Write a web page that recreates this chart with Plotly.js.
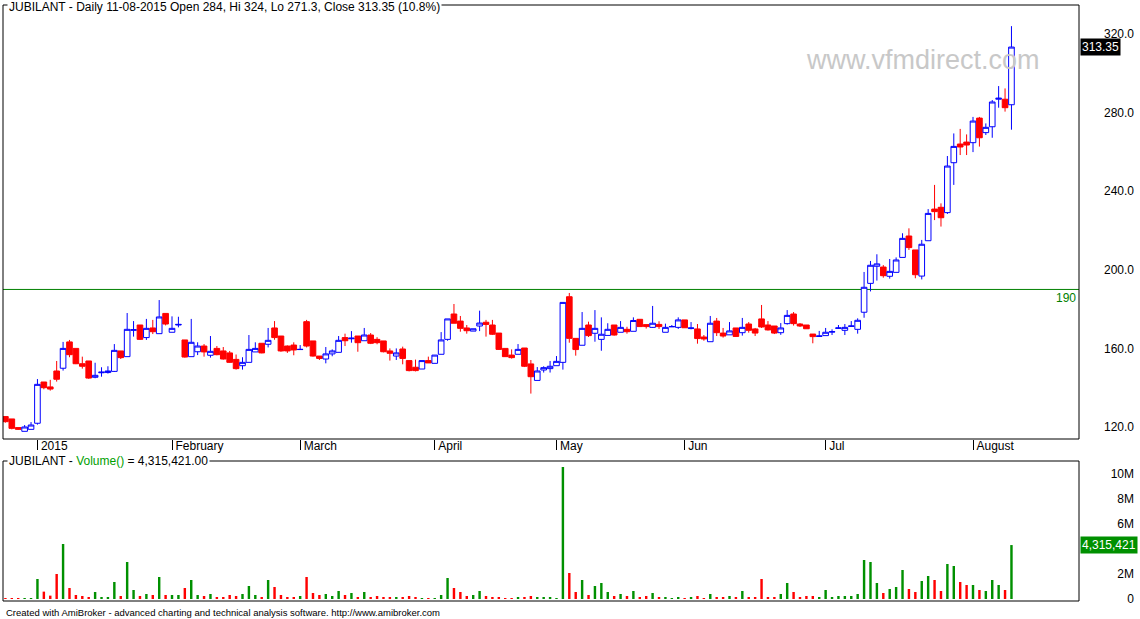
<!DOCTYPE html>
<html><head><meta charset="utf-8">
<script src="https://cdn.plot.ly/plotly-3.0.1.min.js"></script>
<style>html,body{margin:0;padding:0;background:#fff;}#chart{width:1140px;height:619px;}</style>
</head><body><div id="chart"></div>
<script>
const symbol = "JUBILANT";
const headerText = "JUBILANT - Daily 11-08-2015 Open 284, Hi 324, Lo 271.3, Close 313.35 (10.8%)";
const volumeTitle = 'JUBILANT - <span style="color:#00a000">Volume()</span> = 4,315,421.00';
const watermark = "www.vfmdirect.com";
const footer = "Created with AmiBroker - advanced charting and technical analysis software. http://www.amibroker.com";

const openP = [125.3,124.1,119.7,117.8,118.8,121.9,142.9,140.4,148.5,149.9,
163.3,160.0,152.2,153.6,145.3,147.6,147.7,148.3,158.7,155.8,
169.2,171.9,165.5,170.4,167.5,177.8,168.2,171.9,164.3,155.8,
158.3,161.2,156.5,160.0,158.7,157.7,154.4,151.2,152.9,158.2,
162.6,162.1,170.4,166.3,161.2,161.7,159.4,173.6,163.8,156.1,
154.6,157.2,158.0,165.5,164.9,166.3,163.9,166.8,164.6,163.8,
158.7,156.1,159.7,153.8,150.4,149.5,153.8,152.4,157.0,164.6,
177.5,173.9,170.4,168.8,171.4,173.3,171.9,167.8,160.0,156.6,
157.0,160.2,152.1,143.7,149.0,149.7,151.2,152.9,186.3,165.1,
161.6,171.9,167.7,164.6,166.6,171.9,168.2,169.7,168.7,174.8,
172.1,170.7,172.2,168.2,171.0,170.7,174.5,170.1,169.9,165.8,
163.4,173.9,167.8,166.9,170.4,168.0,172.4,169.9,175.0,171.9,
171.4,168.0,172.6,177.5,172.4,171.9,167.3,166.1,166.5,168.3,
170.2,169.2,171.2,169.7,178.4,193.1,201.8,201.4,196.7,198.7,
206.3,217.2,210.1,196.8,214.8,230.9,231.8,229.1,254.5,264.0,
265.0,264.7,277.2,269.8,272.8,286.8,286.8,284];

const highP = [125.4,124.1,119.7,121.0,122.5,144.4,142.9,144.0,153.6,163.3,
164.3,160.0,155.8,153.6,152.7,150.4,150.9,162.2,158.7,178.0,
173.9,171.9,175.0,174.5,184.6,177.8,176.3,176.1,164.3,175.0,
163.1,162.2,166.3,161.2,160.7,158.7,156.9,155.5,166.8,163.1,
162.6,170.4,173.9,166.3,161.5,163.1,161.7,174.5,163.8,156.1,
160.7,159.5,166.3,167.5,168.8,166.3,170.4,167.8,165.7,163.8,
160.0,160.0,160.9,153.8,154.3,153.8,155.8,156.6,168.3,175.0,
182.6,176.5,171.9,170.0,179.2,174.5,174.5,167.8,160.0,159.5,
162.2,160.2,154.1,150.5,150.9,153.6,156.1,183.4,188.2,165.1,
178.5,173.6,179.5,175.8,172.8,171.9,173.9,171.0,175.8,174.8,
172.1,181.6,173.8,172.6,171.9,175.8,174.5,173.4,172.4,166.8,
176.5,175.5,170.4,173.4,170.4,175.5,173.4,170.4,182.1,173.9,
171.4,172.9,179.5,178.5,172.9,171.9,167.3,168.9,170.4,169.7,
171.9,172.4,173.9,175.3,198.9,204.5,207.9,202.4,205.5,206.3,
218.6,221.1,210.1,215.2,230.9,243.2,233.8,257.9,269.4,271.7,
268.9,277.8,277.8,274.5,286.4,293.5,292.3,324];

const lowP = [122.2,118.8,118.5,117.8,118.8,121.2,139.2,138.5,143.1,148.7,
155.5,152.0,149.7,144.5,144.8,145.6,147.2,148.0,154.6,155.8,
166.0,164.3,164.3,167.3,167.5,171.7,168.2,170.7,155.3,155.8,
156.6,155.8,155.3,156.5,154.3,152.7,149.2,149.2,152.9,158.2,
157.5,160.5,164.4,158.3,157.7,156.5,159.2,160.5,155.8,154.1,
152.4,156.0,158.0,161.2,162.9,158.3,163.9,162.2,162.1,158.0,
153.8,154.1,151.9,148.3,148.3,149.5,152.6,152.4,157.0,163.9,
172.8,168.5,167.5,168.8,168.8,166.0,166.8,159.2,155.8,154.8,
157.0,150.5,137.0,143.7,147.7,147.7,151.2,149.2,162.9,156.3,
161.6,165.8,163.4,158.8,166.6,166.5,168.2,167.5,168.7,171.1,
170.1,170.4,169.9,168.2,171.0,169.9,170.4,169.7,162.4,163.9,
163.4,166.3,165.5,166.9,165.8,166.5,168.0,166.3,170.4,169.1,
167.3,166.9,172.1,171.6,170.9,170.0,162.6,165.9,166.5,166.8,
170.0,166.8,171.1,167.5,175.6,189.0,194.5,196.0,195.5,198.7,
206.3,210.1,195.7,195.1,214.8,225.3,222.0,228.4,243.2,258.4,
258.4,259.9,262.7,268.6,267.2,282.5,280.5,271.3];

const closeP = [122.7,119.3,118.8,120.0,121.0,141.7,140.0,139.3,144.3,160.0,
156.8,152.2,150.9,144.9,146.3,147.9,148.5,159.0,155.3,169.7,
169.5,164.6,170.2,168.5,176.0,172.4,170.2,172.2,155.6,163.1,
161.2,158.2,158.5,156.8,154.6,152.9,149.7,152.9,159.5,160.0,
157.7,164.1,165.5,158.7,158.7,159.2,159.5,161.2,156.1,154.9,
157.2,158.7,164.1,163.9,165.2,162.9,166.8,162.6,162.9,158.3,
157.5,157.7,154.9,148.7,148.7,153.8,152.6,156.6,164.3,175.0,
172.8,170.2,169.0,170.0,172.9,172.2,167.2,159.5,155.8,155.3,
159.5,150.9,145.6,148.5,150.2,150.9,153.4,183.4,165.1,159.4,
170.2,166.5,170.2,167.2,169.7,166.8,170.7,168.5,174.2,171.1,
171.1,172.8,171.1,170.7,171.1,174.5,170.5,170.4,165.0,164.8,
172.8,168.0,166.3,168.9,166.1,170.7,169.2,167.8,170.9,169.4,
167.8,170.4,176.8,172.6,171.4,170.0,166.0,166.3,168.2,168.5,
170.4,170.7,171.4,174.3,191.1,202.3,203.0,197.0,199.2,205.0,
216.0,211.3,197.5,213.0,228.7,229.6,226.5,252.8,262.8,262.5,
263.5,275.7,267.2,272.5,285.4,287.3,282.5,313.35];

// volume in millions
const volumeM = [0.08,0.08,0.08,0.08,0.08,1.6,0.59,0.27,2.0,4.4,
0.88,0.32,0.24,0.16,0.56,0.16,0.16,1.36,0.24,2.96,
0.72,0.24,0.4,0.32,1.76,0.32,0.32,0.32,0.88,1.52,
0.32,0.24,0.4,0.16,0.16,0.32,0.24,0.4,1.04,0.32,
0.16,1.52,0.96,0.32,0.16,0.16,0.24,1.76,0.48,0.32,
0.4,0.24,0.64,0.32,0.48,0.16,0.56,0.16,0.24,0.16,
0.16,0.16,0.16,0.24,0.16,0.08,0.08,0.08,0.32,1.68,
0.88,0.56,0.24,0.32,0.64,0.24,0.16,0.16,0.08,0.08,
0.16,0.16,0.24,0.16,0.16,0.16,0.08,10.56,2.08,0.56,
1.52,0.32,1.04,1.28,0.56,0.24,0.4,0.24,0.64,0.16,
0.24,0.48,0.16,0.16,0.08,0.16,0.08,0.16,0.24,0.08,
0.4,0.16,0.16,0.24,0.16,0.64,0.16,0.16,1.6,0.16,
0.16,0.4,1.28,0.56,0.16,0.24,0.24,0.16,0.72,0.16,
0.24,0.24,0.24,0.4,3.12,2.96,1.28,0.48,0.8,0.96,
2.32,0.8,0.56,1.44,1.84,1.52,0.64,2.8,2.64,1.36,
1.12,1.12,0.72,0.64,1.52,1.12,0.72,4.315421];

const tickIdx = [5,26,46,67,86,106,128,151];
const tickLabels = ["2015","February","March","April","May","Jun","Jul","August"];
const priceTicks = [120,160,200,240,280,320];
// the 4M label sits behind the last-volume marker box in the reference
const volTicks = [0,2,6,8,10];
const volTickLabels = ["0","2M","6M","8M","10M"];
const levelLines = [190];

const idx = openP.map((_, i) => i);
const last = closeP.length - 1;

const BLUE = '#0000ff', RED = '#ff0000', GREEN = '#009000';
const FONT = 'Arial, "Liberation Sans", sans-serif';
const W = 1140, H = 619, ML = 3, MR = 3, MT = 5, MB = 18;
const PW = W - ML - MR, PH = H - MT - MB;
const px = x => (x - ML) / PW;
const py = y => (H - MB - y) / PH;

const xr = [-0.375, 167.54];

const candle = {
  type: 'candlestick', x: idx, open: openP, high: highP, low: lowP, close: closeP,
  xaxis: 'x', yaxis: 'y', whiskerwidth: 0, hoverinfo: 'skip',
  increasing: {line: {color: BLUE, width: 1}, fillcolor: '#ffffff'},
  decreasing: {line: {color: RED, width: 1}, fillcolor: RED}
};
const vol = {
  type: 'bar', x: idx, y: volumeM, xaxis: 'x2', yaxis: 'y2', width: 0.38,
  marker: {color: idx.map(i => closeP[i] >= openP[i] ? GREEN : RED), line: {width: 0}},
  hoverinfo: 'skip'
};

const fmtInt = v => Math.round(v * 1e6).toLocaleString('en-US');

const layout = {
  width: W, height: H, margin: {l: ML, r: MR, t: MT, b: MB},
  paper_bgcolor: '#ffffff', plot_bgcolor: '#ffffff', showlegend: false,
  font: {family: FONT, size: 12, color: '#000'},
  boxgap: 0.12, boxgroupgap: 0,
  xaxis: {domain: [0, px(1079)], range: xr, anchor: 'y', tickvals: tickIdx, ticktext: tickLabels,
    ticks: 'outside', ticklen: 10, tickcolor: '#000', tickwidth: 1,
    ticklabelposition: 'outside right', ticklabelstandoff: -4, ticklabelshift: 3,
    showgrid: false, zeroline: false, showline: false, rangeslider: {visible: false}, fixedrange: true,
    tickfont: {family: FONT, size: 12, color: '#000'}},
  xaxis2: {domain: [0, px(1079)], range: xr, anchor: 'y2', showticklabels: false, ticks: '',
    showgrid: false, zeroline: false, showline: false, fixedrange: true},
  yaxis: {domain: [py(439), 1], range: [113.89, 334.76], anchor: 'free', position: 1, side: 'right',
    tickvals: priceTicks, ticktext: priceTicks.map(v => v.toFixed(1)), ticklabelposition: 'inside',
    ticklabeloverflow: 'allow', ticks: '', showgrid: false, zeroline: false, showline: false, fixedrange: true,
    tickfont: {family: FONT, size: 12, color: '#000'}},
  yaxis2: {domain: [0, py(461)], range: [-0.16, 11.04], anchor: 'free', position: 1, side: 'right',
    tickvals: volTicks, ticktext: volTickLabels, ticklabelposition: 'inside',
    ticklabeloverflow: 'allow', ticks: '', showgrid: false, zeroline: false, showline: false, fixedrange: true,
    tickfont: {family: FONT, size: 12, color: '#000'}},
  shapes: [
    ...levelLines.map(v => ({type: 'line', xref: 'x domain', yref: 'y', x0: 0, x1: 1, y0: v, y1: v,
      line: {color: '#008000', width: 1}, layer: 'below'})),
    {type: 'rect', xref: 'x domain', yref: 'y domain', x0: 0, x1: 1, y0: 0, y1: 1,
      line: {color: '#000', width: 1}, fillcolor: 'rgba(0,0,0,0)', layer: 'above'},
    {type: 'rect', xref: 'x2 domain', yref: 'y2 domain', x0: 0, x1: 1, y0: 0, y1: 1,
      line: {color: '#000', width: 1}, fillcolor: 'rgba(0,0,0,0)', layer: 'above'}
  ],
  annotations: [
    {xref: 'paper', yref: 'paper', x: px(7), y: py(7.5), xanchor: 'left', yanchor: 'middle',
      text: headerText, showarrow: false, bgcolor: '#ffffff', borderpad: 1,
      font: {family: FONT, size: 12, color: '#000'}},
    {xref: 'paper', yref: 'paper', x: px(7), y: py(461), xanchor: 'left', yanchor: 'middle',
      text: volumeTitle, showarrow: false, bgcolor: '#ffffff', borderpad: 1,
      font: {family: FONT, size: 12, color: '#000'}},
    {xref: 'paper', yref: 'paper', x: px(923), y: py(60), xanchor: 'center', yanchor: 'middle',
      text: watermark, showarrow: false, font: {family: FONT, size: 27, color: '#c8c8c8'}},
    ...levelLines.map(v => ({xref: 'x domain', yref: 'y', x: 1, y: v, xanchor: 'right', yanchor: 'top',
      xshift: -1, text: String(v), showarrow: false, font: {family: FONT, size: 12, color: '#008000'}})),
    {xref: 'paper', yref: 'y', x: px(1080), y: closeP[last], xanchor: 'left', yanchor: 'middle',
      text: String(closeP[last]), showarrow: false, bgcolor: '#000', borderpad: 1,
      font: {family: FONT, size: 12, color: '#fff'}},
    {xref: 'paper', yref: 'y2', x: px(1080), y: volumeM[last], xanchor: 'left', yanchor: 'middle',
      text: fmtInt(volumeM[last]), showarrow: false, bgcolor: GREEN, borderpad: 1,
      font: {family: FONT, size: 12, color: '#fff'}},
    {xref: 'paper', yref: 'paper', x: px(4), y: py(612), xanchor: 'left', yanchor: 'middle',
      text: footer, showarrow: false, font: {family: FONT, size: 9.5, color: '#000'}}
  ]
};

Plotly.newPlot('chart', [candle, vol], layout, {displayModeBar: false, staticPlot: true});
</script>
</body></html>
